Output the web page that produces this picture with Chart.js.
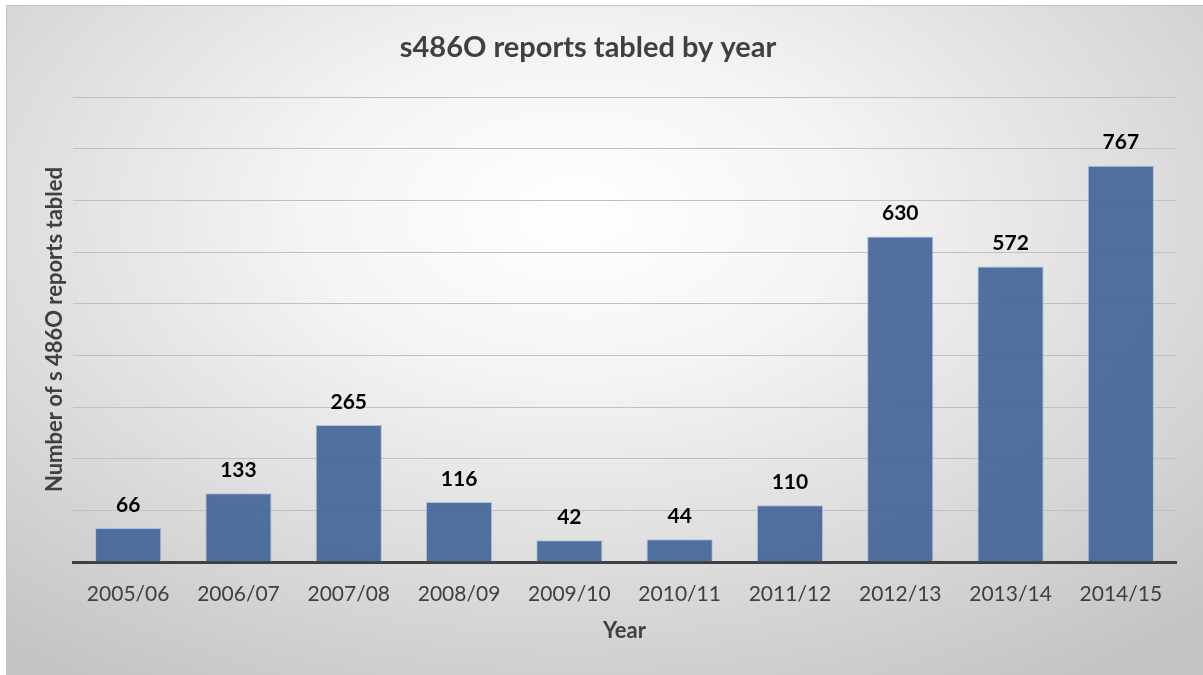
<!DOCTYPE html>
<html>
<head>
<meta charset="utf-8">
<script src="https://cdn.jsdelivr.net/npm/chart.js"></script>
<style>
  html, body { margin: 0; padding: 0; background: #fff; overflow: hidden; }
  #frame {
    position: absolute; left: 6px; top: 5px; width: 1210px; height: 690px;
    border: 1px solid #c2c2c2;
    background: radial-gradient(ellipse 75% 80% at 47% 30%, #ffffff 0%, #f4f4f4 30%, #dcdcdc 65%, #c4c4c4 100%);
  }
  #chart { position: absolute; left: 0; top: 0; }
</style>
</head>
<body>
<div id="frame"></div>
<canvas id="chart" width="1203" height="675"></canvas>
<script>
  "use strict";

  const years = ["2005/06", "2006/07", "2007/08", "2008/09", "2009/10",
                 "2010/11", "2011/12", "2012/13", "2013/14", "2014/15"];
  const reportsTabled = [66, 133, 265, 116, 42, 44, 110, 630, 572, 767];
  const yMax = 900;
  const yStep = 100;

  const FONT = "Lato, 'Open Sans', sans-serif";

  // value labels above each bar
  const barValues = {
    id: "barValues",
    afterDatasetsDraw(chart) {
      const ctx = chart.ctx;
      const meta = chart.getDatasetMeta(0);
      ctx.save();
      ctx.font = "bold 21px " + FONT;
      ctx.fillStyle = "#000";
      ctx.textAlign = "center";
      ctx.textBaseline = "middle";
      meta.data.forEach((bar, i) => {
        ctx.fillText(String(reportsTabled[i]), bar.x, bar.y - 23);
      });
      ctx.restore();
    }
  };

  new Chart(document.getElementById("chart").getContext("2d"), {
    type: "bar",
    data: {
      labels: years,
      datasets: [{
        data: reportsTabled,
        backgroundColor: "rgba(66, 101, 152, 0.92)",
        borderColor: "rgba(170, 190, 218, 0.9)",
        borderWidth: 1,
        barPercentage: 0.6,
        categoryPercentage: 1.0
      }]
    },
    options: {
      responsive: false,
      animation: false,
      layout: { padding: { left: 0, right: 27, top: 0, bottom: 0 } },
      plugins: {
        legend: { display: false },
        tooltip: { enabled: false },
        title: {
          display: true,
          text: "s486O reports tabled by year",
          color: "#404040",
          font: { family: FONT, size: 29, weight: "bold", lineHeight: 1.2 },
          padding: { top: 30.6, bottom: 31.6 }
        }
      },
      scales: {
        x: {
          grid: { display: false, drawTicks: false },
          border: { display: true, color: "#404040", width: 3 },
          ticks: { color: "#404040", font: { family: FONT, size: 21 }, padding: 19.4 },
          title: {
            display: true,
            text: "Year",
            color: "#404040",
            font: { family: FONT, size: 22, weight: "bold", lineHeight: 1.2 },
            padding: { top: 0, bottom: 30.8 }
          },
          afterFit(scale) { scale.height = 113; }
        },
        y: {
          min: 0,
          max: yMax,
          ticks: { display: false, stepSize: yStep },
          grid: {
            drawTicks: false,
            color: (c) => (c.tick && c.tick.value === 0 ? "rgba(0,0,0,0)" : "#c0c0c0"),
            lineWidth: 1
          },
          border: { display: false },
          title: {
            display: true,
            text: "Number of s 486O reports tabled",
            color: "#404040",
            font: { family: FONT, size: 22, weight: "bold", lineHeight: 1.2 },
            padding: { top: 41.8, bottom: 0 }
          },
          afterFit(scale) { scale.width = 73; }
        }
      }
    },
    plugins: [barValues]
  });
</script>
</body>
</html>
